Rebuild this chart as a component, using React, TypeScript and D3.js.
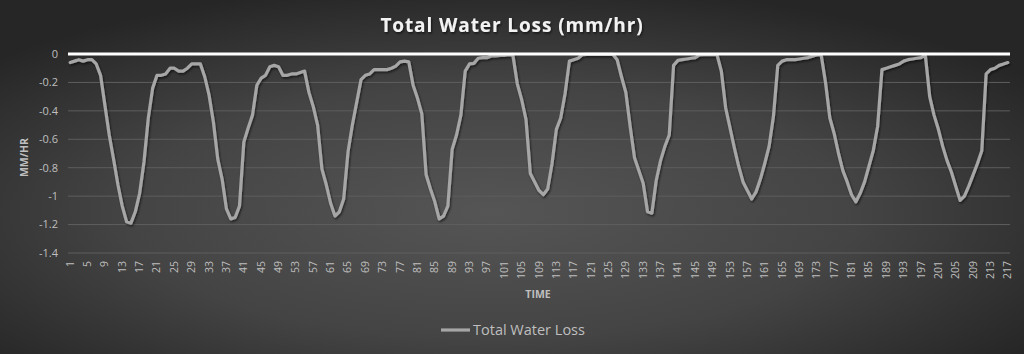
import React from 'react';
import * as d3 from 'd3';

// Total water loss (mm/hr), one value per time step 1..217
const lossValues = [
  -0.06, -0.05, -0.04, -0.05, -0.04, -0.04, -0.07, -0.15, -0.36, -0.57,
  -0.74, -0.92, -1.07, -1.18, -1.19, -1.11, -0.98, -0.76, -0.45, -0.24,
  -0.15, -0.15, -0.14, -0.1, -0.1, -0.12, -0.12, -0.1, -0.07, -0.07,
  -0.07, -0.16, -0.29, -0.48, -0.74, -0.88, -1.09, -1.16, -1.15, -1.07,
  -0.62, -0.52, -0.43, -0.22, -0.17, -0.15, -0.09, -0.08, -0.09, -0.15,
  -0.15, -0.14, -0.14, -0.13, -0.12, -0.27, -0.37, -0.5, -0.81, -0.92,
  -1.05, -1.14, -1.11, -1.02, -0.69, -0.5, -0.34, -0.18, -0.15, -0.14,
  -0.11, -0.11, -0.11, -0.11, -0.1, -0.085, -0.055, -0.05, -0.055, -0.22,
  -0.31, -0.42, -0.85, -0.95, -1.04, -1.16, -1.14, -1.07, -0.67, -0.57,
  -0.43, -0.12, -0.07, -0.066, -0.03, -0.026, -0.026, -0.014, -0.014, -0.01,
  -0.01, -0.005, -0.01, -0.21, -0.32, -0.46, -0.84, -0.9, -0.96, -0.99,
  -0.95, -0.77, -0.53, -0.45, -0.28, -0.05, -0.04, -0.03, -0.005, -0.002,
  -0.002, -0.002, -0.002, -0.002, -0.002, -0.002, -0.04, -0.16, -0.27, -0.51,
  -0.73, -0.82, -0.91, -1.11, -1.12, -0.89, -0.75, -0.65, -0.57, -0.08,
  -0.045, -0.04, -0.035, -0.03, -0.025, -0.007, -0.005, -0.005, -0.005, -0.005,
  -0.12, -0.38, -0.52, -0.66, -0.79, -0.9, -0.96, -1.02, -0.97, -0.88,
  -0.77, -0.65, -0.44, -0.08, -0.05, -0.04, -0.04, -0.04, -0.035, -0.03,
  -0.025, -0.015, -0.007, -0.005, -0.2, -0.45, -0.56, -0.7, -0.82, -0.9,
  -0.99, -1.04, -0.98, -0.9, -0.79, -0.68, -0.51, -0.11, -0.1, -0.09,
  -0.08, -0.07, -0.05, -0.04, -0.035, -0.03, -0.025, -0.01, -0.3, -0.43,
  -0.53, -0.65, -0.75, -0.83, -0.93, -1.03, -1.0, -0.93, -0.85, -0.77,
  -0.68, -0.14, -0.11, -0.1, -0.08, -0.07, -0.06,
];
const categories = lossValues.map((_, i) => String(i + 1));
const xTickLabels = categories.filter((_, i) => i % 4 === 0);
const yTicks = [0, -0.2, -0.4, -0.6, -0.8, -1, -1.2, -1.4];

const title = 'Total Water Loss (mm/hr)';
const seriesName = 'Total Water Loss';

const width = 1024;
const height = 354;
const margin = { top: 54, right: 14, bottom: 101, left: 68 };
const font = "'Open Sans', 'Noto Sans', sans-serif";

export default function App() {
  const x = d3.scaleBand()
    .domain(categories)
    .range([margin.left, width - margin.right])
    .padding(0);
  const y = d3.scaleLinear()
    .domain([-1.4, 0])
    .range([height - margin.bottom, margin.top]);
  const bw = x.bandwidth();

  const line = d3.line<number>()
    .x((_, i) => (x(categories[i]) as number) + bw / 2)
    .y(d => y(d));

  return (
    <svg width={width} height={height} style={{ position: 'absolute', left: 0, top: 0, display: 'block' }}>
      <defs>
        <radialGradient id="bg" cx="48%" cy="60%" r="65%" fx="48%" fy="60%">
          <stop offset="0%" stopColor="#555555" />
          <stop offset="55%" stopColor="#444444" />
          <stop offset="100%" stopColor="#262626" />
        </radialGradient>
        <filter id="shadow" x="-5%" y="-20%" width="110%" height="140%">
          <feDropShadow dx="1" dy="1.5" stdDeviation="1.2" floodColor="#000" floodOpacity="0.6" />
        </filter>
      </defs>
      <rect width={width} height={height} fill="url(#bg)" />

      <text x={512} y={32} textAnchor="middle" fill="#f2f2f2" fontFamily={font}
        fontSize={19} fontWeight="bold" letterSpacing={0.9} filter="url(#shadow)">{title}</text>

      {/* gridlines */}
      {yTicks.filter(t => t !== 0).map(t => (
        <line key={t} x1={margin.left} x2={width - margin.right} y1={y(t)} y2={y(t)}
          stroke="#5e5e5e" strokeWidth={1} />
      ))}

      {/* y tick labels */}
      {yTicks.map(t => (
        <text key={t} x={margin.left - 10} y={y(t)} dy="0.35em" textAnchor="end"
          fill="#bfbfbf" fontFamily={font} fontSize={11}>{String(t)}</text>
      ))}
      <text transform={`translate(28,${(margin.top + height - margin.bottom) / 2 + 4}) rotate(-90)`}
        textAnchor="middle" fill="#bfbfbf" fontFamily={font} fontSize={10.5} fontWeight="bold">MM/HR</text>

      {/* x tick labels */}
      {xTickLabels.map(c => {
        const cx = (x(c) as number) + bw / 2;
        return (
          <text key={c} transform={`translate(${cx + 3.5},${height - margin.bottom + 8}) rotate(-90)`}
            textAnchor="end" fill="#bfbfbf" fontFamily={font} fontSize={10.5}>{c}</text>
        );
      })}
      <text x={538} y={298} textAnchor="middle" fill="#bfbfbf" fontFamily={font}
        fontSize={10.5} fontWeight="bold">TIME</text>

      {/* series */}
      <path d={line(lossValues) ?? ''} fill="none" stroke="#a6a6a6" strokeWidth={3.2}
        strokeLinejoin="round" strokeLinecap="round" filter="url(#shadow)" />

      {/* zero axis line */}
      <line x1={margin.left} x2={width - margin.right} y1={y(0)} y2={y(0)}
        stroke="#ffffff" strokeWidth={3} />

      {/* legend */}
      <line x1={441} x2={470} y1={330} y2={330} stroke="#a6a6a6" strokeWidth={3.2} />
      <text x={473} y={330} dy="0.35em" fill="#bfbfbf" fontFamily={font} fontSize={14.5}>{seriesName}</text>
    </svg>
  );
}
